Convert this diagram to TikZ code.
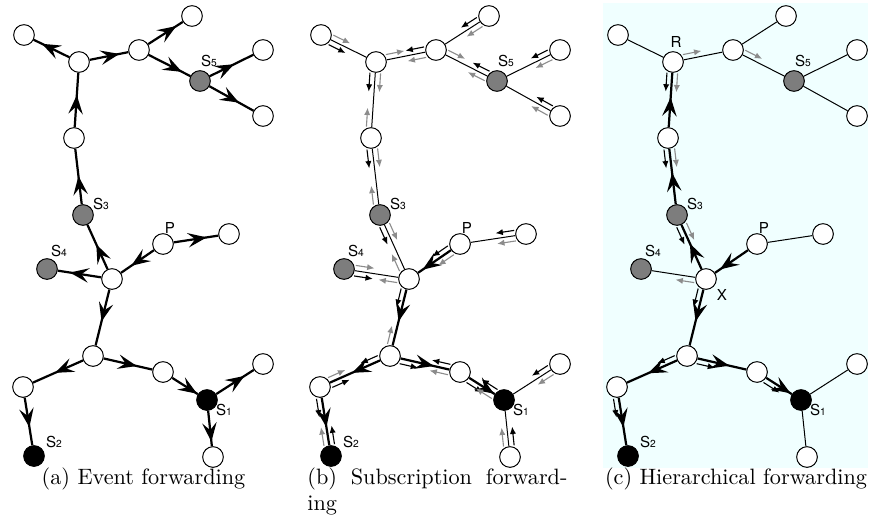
\documentclass[tikz,border=0pt]{standalone}
\usepackage{fontspec}
\newfontfamily\heros{TeX Gyre Heros}
\usepackage{tikz}
\usetikzlibrary{arrows.meta,calc,decorations.markings}
\definecolor{nodegray}{RGB}{125,125,125}
\definecolor{subgray}{RGB}{140,140,140}
\definecolor{bgcyan}{RGB}{240,255,255}
\newcommand\dg[1]{{\fontsize{4.6}{5}\selectfont #1}}

\begin{document}
\begin{tikzpicture}[x=0.45pt,y=-0.45pt,
  nd/.style={circle,draw,line width=0.45pt,fill=white,inner sep=0pt,minimum size=9.3pt},
  gnd/.style={nd,fill=nodegray},
  bnd/.style={nd,fill=black},
  lab/.style={font=\fontsize{6.8}{7}\heros,inner sep=0pt},
  lnk/.style={line width=0.45pt},
  ev/.style={line width=1pt,postaction={decorate},
    decoration={markings,mark=at position #1 with {\arrow{Stealth[length=8.5pt,width=6.5pt,inset=3.3pt]}}}},
  ev/.default=0.6,
  sb/.style n args={2}{draw=#1,line width=0.5pt,-{Latex[length=3.3pt,width=2.8pt]},
    to path={($(\tikztostart)!5pt!(\tikztotarget)!2.4pt!#2:(\tikztotarget)$)
      -- ($(\tikztostart)!13.5pt!(\tikztotarget)!2.4pt!#2:(\tikztotarget)$)}},
  blk/.style={sb={black}{-90}},
  gry/.style={sb={subgray}{90}}]
\useasboundingbox (0,0) rectangle (871,517);
\fill[bgcyan] (603,3) rectangle (868,468);

% the same network in all three panels
\foreach \p/\dx in {a/0,b/297,c/594}{
  \begin{scope}[shift={(\dx,0)}]
    \node[nd]  (\p-tl) at (24,35)   {};
    \node[nd]  (\p-r)  at (79,62)   {};
    \node[nd]  (\p-u)  at (139,50)  {};
    \node[nd]  (\p-ur) at (192,16)  {};
    \node[gnd] (\p-s5) at (200,81)  {};
    \node[nd]  (\p-e1) at (263,50)  {};
    \node[nd]  (\p-e2) at (263,116) {};
    \node[nd]  (\p-m)  at (74,138)  {};
    \node[gnd] (\p-s3) at (83,215)  {};
    \node[nd]  (\p-p)  at (163,244) {};
    \node[nd]  (\p-pl) at (229,234) {};
    \node[gnd] (\p-s4) at (47,269)  {};
    \node[nd]  (\p-x)  at (112,279) {};
    \node[nd]  (\p-j)  at (93,356)  {};
    \node[nd]  (\p-l)  at (23,387)  {};
    \node[bnd] (\p-s2) at (34,456)  {};
    \node[nd]  (\p-k)  at (163,372) {};
    \node[bnd] (\p-s1) at (207,400) {};
    \node[nd]  (\p-f1) at (263,364) {};
    \node[nd]  (\p-f2) at (213,457) {};
    \node[lab] at (209,61)  {S\dg{5}};
    \node[lab] at (101,204) {S\dg{3}};
    \node[lab] at (170,228) {P};
    \node[lab] at (59,251)  {S\dg{4}};
    \node[lab] at (224,410) {S\dg{1}};
    \node[lab] at (54,442)  {S\dg{2}};
  \end{scope}
}
\node[lab] at (676,42)  {R};
\node[lab] at (722,295) {X};

% (a) event forwarding
\path (a-p) edge[ev=0.74] (a-pl)
      (a-p) edge[ev=0.69] (a-x)
      (a-x) edge[ev=0.72] (a-s4)
      (a-x) edge[ev=0.56] (a-s3)
      (a-x) edge[ev=0.57] (a-j)
      (a-s3) edge[ev=0.51] (a-m)
      (a-m) edge[ev=0.59] (a-r)
      (a-r) edge[ev=0.77] (a-tl)
      (a-r) edge[ev=0.77] (a-u)
      (a-u) edge[ev=0.81] (a-ur)
      (a-u) edge[ev=0.8] (a-s5)
      (a-s5) edge[ev=0.56] (a-e1)
      (a-s5) edge[ev=0.67] (a-e2)
      (a-j) edge[ev=0.56] (a-l)
      (a-j) edge[ev=0.68] (a-k)
      (a-l) edge[ev=0.62] (a-s2)
      (a-k) edge[ev=0.97] (a-s1)
      (a-s1) edge[ev=0.75] (a-f1)
      (a-s1) edge[ev=0.87] (a-f2);

% (b) subscription forwarding
\path[lnk] (b-tl) edge (b-r)  (b-r) edge (b-u)  (b-u) edge (b-ur)
      (b-u) edge (b-s5)  (b-s5) edge (b-e1)  (b-s5) edge (b-e2)
      (b-r) edge (b-m)  (b-m) edge (b-s3)  (b-s3) edge (b-x)
      (b-x) edge (b-s4)  (b-p) edge (b-pl)
      (b-s1) edge (b-f1)  (b-s1) edge (b-f2);
\path (b-p) edge[ev=0.86] (b-x)
      (b-x) edge[ev=0.57] (b-j)
      (b-j) edge[ev=0.56] (b-l)
      (b-l) edge[ev=0.62] (b-s2)
      (b-j) edge[ev=0.68] (b-k)
      (b-k) edge[ev=0.97] (b-s1);
\path (b-tl) edge[blk] (b-r)  (b-tl) edge[gry] (b-r)
      (b-r) edge[gry] (b-u)  (b-u) edge[blk] (b-r)  (b-u) edge[gry] (b-r)
      (b-ur) edge[blk] (b-u)  (b-ur) edge[gry] (b-u)
      (b-u) edge[gry] (b-s5)  (b-s5) edge[blk] (b-u)  (b-s5) edge[gry] (b-u)
      (b-e1) edge[blk] (b-s5)  (b-e1) edge[gry] (b-s5)
      (b-e2) edge[blk] (b-s5)  (b-e2) edge[gry] (b-s5)
      (b-r) edge[blk] (b-m)  (b-r) edge[gry] (b-m)  (b-m) edge[gry] (b-r)
      (b-m) edge[blk] (b-s3)  (b-m) edge[gry] (b-s3)  (b-s3) edge[gry] (b-m)
      (b-s3) edge[blk] (b-x)  (b-s3) edge[gry] (b-x)  (b-x) edge[gry] (b-s3)
      (b-x) edge[gry] (b-s4)  (b-s4) edge[blk] (b-x)  (b-s4) edge[gry] (b-x)
      (b-p) edge[blk] (b-x)  (b-p) edge[gry] (b-x)
      (b-pl) edge[blk] (b-p)  (b-pl) edge[gry] (b-p)
      (b-x) edge[blk] (b-j)  (b-j) edge[gry] (b-x)
      (b-j) edge[blk] (b-l)  (b-l) edge[blk] (b-j)  (b-l) edge[gry] (b-j)
      (b-l) edge[blk] (b-s2)  (b-s2) edge[blk] (b-l)  (b-s2) edge[gry] (b-l)
      (b-j) edge[blk] (b-k)  (b-k) edge[blk] (b-j)  (b-k) edge[gry] (b-j)
      (b-k) edge[blk] (b-s1)  (b-s1) edge[blk] (b-k)  (b-s1) edge[gry] (b-k)
      (b-f1) edge[blk] (b-s1)  (b-f1) edge[gry] (b-s1)
      (b-f2) edge[blk] (b-s1)  (b-f2) edge[gry] (b-s1);

% (c) hierarchical forwarding, root R
\path[lnk] (c-tl) edge (c-r)  (c-r) edge (c-u)  (c-u) edge (c-ur)
      (c-u) edge (c-s5)  (c-s5) edge (c-e1)  (c-s5) edge (c-e2)
      (c-x) edge (c-s4)  (c-p) edge (c-pl)
      (c-s1) edge (c-f1)  (c-s1) edge (c-f2);
\path (c-p) edge[ev=0.85] (c-x)
      (c-x) edge[ev=0.58] (c-s3)
      (c-s3) edge[ev=0.57] (c-m)
      (c-m) edge[ev=0.55] (c-r)
      (c-x) edge[ev=0.57] (c-j)
      (c-j) edge[ev=0.58] (c-l)
      (c-l) edge[ev=0.62] (c-s2)
      (c-j) edge[ev=0.65] (c-k)
      (c-k) edge[ev=0.95] (c-s1);
\path (c-r) edge[gry] (c-u)  (c-u) edge[gry] (c-s5)
      (c-r) edge[blk] (c-m)  (c-r) edge[gry] (c-m)
      (c-m) edge[blk] (c-s3)  (c-m) edge[gry] (c-s3)
      (c-s3) edge[blk] (c-x)  (c-s3) edge[gry] (c-x)
      (c-x) edge[gry] (c-s4)  (c-x) edge[blk] (c-j)
      (c-j) edge[blk] (c-l)  (c-l) edge[blk] (c-s2)
      (c-j) edge[blk] (c-k)  (c-k) edge[blk] (c-s1);

% captions
\node[anchor=base,inner sep=0pt] (capa) at (143.5,484) {(a) Event forwarding};
\node[anchor=base west,inner sep=0pt,text width=117pt,align=justify] (capb) at (307,484)
  {(b) Subscription forward-\linebreak ing};
\node[anchor=base,inner sep=0pt] (capc) at (736,484) {(c) Hierarchical forwarding};
\end{tikzpicture}
\end{document}
